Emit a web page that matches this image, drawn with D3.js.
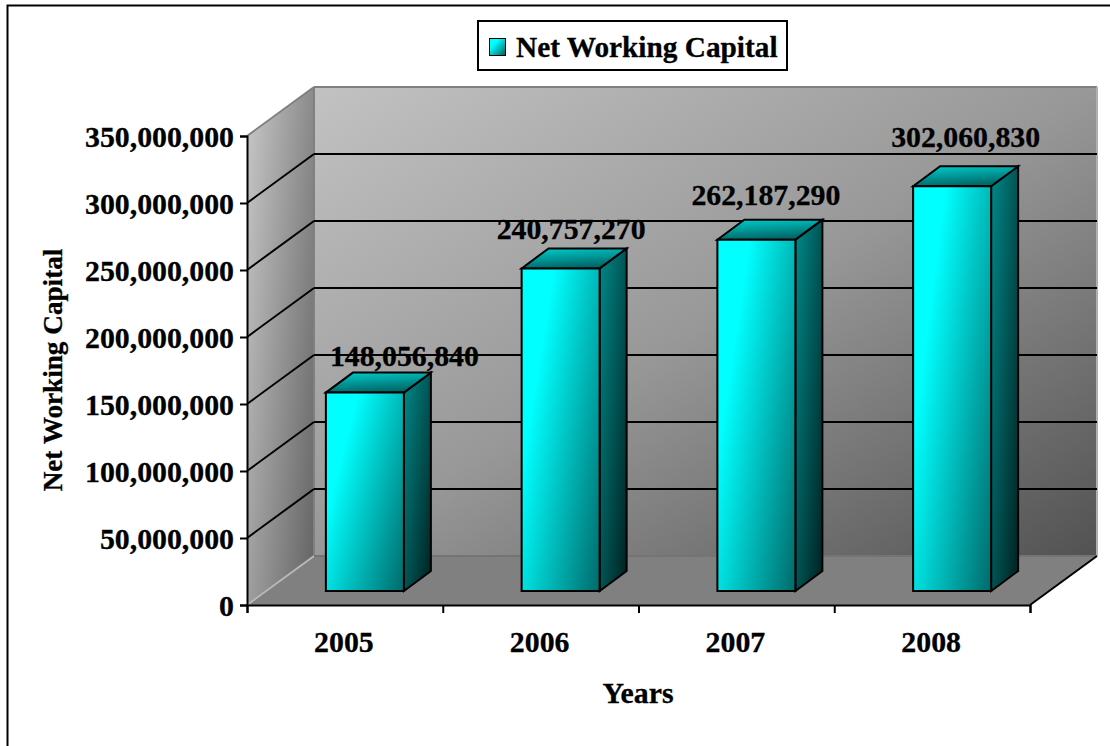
<!DOCTYPE html>
<html>
<head>
<meta charset="utf-8">
<script src="https://cdnjs.cloudflare.com/ajax/libs/d3/7.8.5/d3.min.js"></script>
<style>
  html, body { margin: 0; padding: 0; background: #fff; }
  svg { display: block; }
  text { font-family: "Liberation Serif", "Times New Roman", serif; font-weight: bold; fill: #000; stroke: #000; stroke-width: 0.3px; }
</style>
</head>
<body>
<svg id="chart" width="1110" height="746"></svg>
<script>
// Chart values
const years = ["2005", "2006", "2007", "2008"];
const netWorkingCapital = [148056840, 240757270, 262187290, 302060830];
const yTicks = [0, 50000000, 100000000, 150000000, 200000000, 250000000, 300000000, 350000000];
const seriesName = "Net Working Capital";
const xTitle = "Years";
const yTitle = "Net Working Capital";

// Layout
const W = 1110, H = 746;
const plot = { left: 247, right: 1030, top: 136, bottom: 605 };
const wallDepth = { x: 67, y: -49 };    // oblique offset from front plane to back wall
const barInset = { x: 20, y: -14 };     // where the bar's front face sits on the floor
const barDepth = { x: 27, y: -20 };     // oblique depth of each bar
const barWidth = 78;
// Value labels are placed by hand, relative to the bar's top-centre
const labelDx = [39.5, 10.5, 9.5, 13.5];
const labelDy = [-27, -29, -35, -39];
const fontSize = 29.8;

const svg = d3.select("#chart");
const x = d3.scaleBand().domain(years).range([plot.left, plot.right]);
const y = d3.scaleLinear().domain([0, 350000000]).range([plot.bottom, plot.top]);
const fmt = d3.format(",");

const defs = svg.append("defs");
function gradient(id, v, stops) {
  const g = defs.append("linearGradient").attr("id", id)
    .attr("x1", 0).attr("y1", 0).attr("x2", v[0]).attr("y2", v[1]);
  stops.forEach(s => g.append("stop").attr("offset", s[0]).attr("stop-color", s[1]));
}
gradient("wallBack", [1, 1], [[0, "#c2c2c2"], [0.5, "#989898"], [1, "#525252"]]);
gradient("wallSide", [1.154, 0.769], [[0, "#c8c8c8"], [1, "#626262"]]);
gradient("barFront", [1.154, 0.769], [[0, "#00ffff"], [0.25, "#00ffff"], [1, "#006a6a"]]);
gradient("barSide", [1, 1], [[0, "#008a8a"], [1, "#002020"]]);
gradient("barTop", [0.3, 1], [[0, "#00d0d0"], [1, "#006868"]]);
gradient("swatch", [1, 1], [[0, "#00ffff"], [0.3, "#00ffff"], [1, "#005a5a"]]);

const poly = pts => pts.map(p => p.join(",")).join(" ");
const shift = (p, d) => [p[0] + d.x, p[1] + d.y];

// Chart area frame (right and bottom edges run off the page)
svg.append("rect").attr("x", 7.5).attr("y", 5.5).attr("width", W + 20).attr("height", H + 20)
  .attr("fill", "#fff").attr("stroke", "#000").attr("stroke-width", 2);

// Walls and floor
const y0 = y(0), yMax = y(350000000);
const L = plot.left, R = plot.right;
svg.append("polygon").attr("fill", "url(#wallSide)")
  .attr("points", poly([[L, y0], [L, yMax], shift([L, yMax], wallDepth), shift([L, y0], wallDepth)]));
svg.append("rect").attr("x", L + wallDepth.x).attr("y", yMax + wallDepth.y)
  .attr("width", R - L).attr("height", y0 - yMax).attr("fill", "url(#wallBack)");
svg.append("polygon").attr("fill", "#808080")
  .attr("points", poly([[L, y0], [R, y0], shift([R, y0], wallDepth), shift([L, y0], wallDepth)]));

// Wall edges
const edge = (a, b, color, w) => svg.append("line")
  .attr("x1", a[0]).attr("y1", a[1]).attr("x2", b[0]).attr("y2", b[1])
  .attr("stroke", color).attr("stroke-width", w);
edge([L, yMax], shift([L, yMax], wallDepth), "#808080", 2);
edge(shift([L, yMax], wallDepth), shift([R, yMax], wallDepth), "#808080", 2);
edge(shift([L, yMax], wallDepth), shift([L, y0], wallDepth), "#808080", 2);
edge(shift([R, yMax], wallDepth), shift([R, y0], wallDepth), "#b0b0b0", 2);
edge(shift([L, y0], wallDepth), shift([R, y0], wallDepth), "#747474", 2);
edge([L, y0], shift([L, y0], wallDepth), "#b8b8b8", 2);
edge([R, y0], shift([R, y0], wallDepth), "#000", 2);

// Gridlines across the side and back walls
yTicks.filter(t => t > 0 && t < 350000000).forEach(t => {
  const front = [L, y(t)], back = shift(front, wallDepth);
  edge(front, back, "#000", 2);
  edge(back, [R + wallDepth.x, back[1]], "#000", 2);
});

// Bars: front, side and top faces
const bars = svg.append("g").selectAll("g")
  .data(years.map((yr, i) => ({ yr, v: netWorkingCapital[i], i })))
  .join("g")
  .attr("stroke", "#000").attr("stroke-width", 2).attr("stroke-linejoin", "miter");

function barCorners(d) {
  const xl = x(d.yr) + x.bandwidth() / 2 + barInset.x - barWidth / 2;
  const xr = xl + barWidth;
  const yb = y(0) + barInset.y;
  const yt = y(d.v) + barInset.y;
  return { xl, xr, yb, yt };
}
bars.append("polygon").attr("fill", "url(#barSide)").attr("points", d => {
  const c = barCorners(d);
  return poly([[c.xr, c.yb], [c.xr, c.yt], shift([c.xr, c.yt], barDepth), shift([c.xr, c.yb], barDepth)]);
});
bars.append("polygon").attr("fill", "url(#barTop)").attr("points", d => {
  const c = barCorners(d);
  return poly([[c.xl, c.yt], [c.xr, c.yt], shift([c.xr, c.yt], barDepth), shift([c.xl, c.yt], barDepth)]);
});
bars.append("polygon").attr("fill", "url(#barFront)").attr("points", d => {
  const c = barCorners(d);
  return poly([[c.xl, c.yb], [c.xr, c.yb], [c.xr, c.yt], [c.xl, c.yt]]);
});

// Y axis
const yAxis = svg.append("g").attr("transform", `translate(${L},0)`)
  .call(d3.axisLeft(y).tickValues(yTicks).tickFormat(fmt).tickSize(7).tickPadding(0));
yAxis.selectAll("path, line").attr("stroke", "#000").attr("stroke-width", 2);
yAxis.selectAll("text")
  .attr("x", -13).attr("dy", "0.34em").attr("text-anchor", "end")
  .style("font-size", fontSize + "px");

// X axis: ticks at band edges, labels at band centres
const edges = d3.scaleLinear().domain([0, years.length]).range([L, R]);
const xEdgeAxis = svg.append("g").attr("transform", `translate(0,${y0})`)
  .call(d3.axisBottom(edges).tickValues(d3.range(years.length + 1)).tickFormat("").tickSize(8));
xEdgeAxis.selectAll("path, line").attr("stroke", "#000").attr("stroke-width", 2);
const xAxis = svg.append("g").attr("transform", `translate(0,${y0})`)
  .call(d3.axisBottom(x).tickSize(0));
xAxis.select("path").remove();
xAxis.selectAll("text")
  .attr("x", -1).attr("y", 47).attr("dy", 0).attr("text-anchor", "middle")
  .style("font-size", fontSize + "px");

// Value labels
svg.append("g").selectAll("text")
  .data(years.map((yr, i) => ({ yr, v: netWorkingCapital[i], i })))
  .join("text")
  .attr("text-anchor", "middle")
  .attr("x", d => { const c = barCorners(d); return (c.xl + c.xr) / 2 + labelDx[d.i]; })
  .attr("y", d => barCorners(d).yt + labelDy[d.i])
  .style("font-size", fontSize + "px")
  .text(d => fmt(d.v));

// Axis titles
svg.append("text").attr("text-anchor", "middle").attr("x", 638).attr("y", 703)
  .style("font-size", fontSize + "px").text(xTitle);
svg.append("text").attr("text-anchor", "middle")
  .attr("transform", "translate(62,370) rotate(-90)")
  .style("font-size", "27.2px").text(yTitle);

// Legend
svg.append("rect").attr("x", 478).attr("y", 21).attr("width", 309).attr("height", 49)
  .attr("fill", "#fff").attr("stroke", "#000").attr("stroke-width", 2);
svg.append("rect").attr("x", 489.5).attr("y", 38.5).attr("width", 16).attr("height", 17)
  .attr("fill", "url(#swatch)").attr("stroke", "#000").attr("stroke-width", 1);
svg.append("text").attr("x", 516).attr("y", 57)
  .style("font-size", "29.3px").text(seriesName);
</script>
</body>
</html>
